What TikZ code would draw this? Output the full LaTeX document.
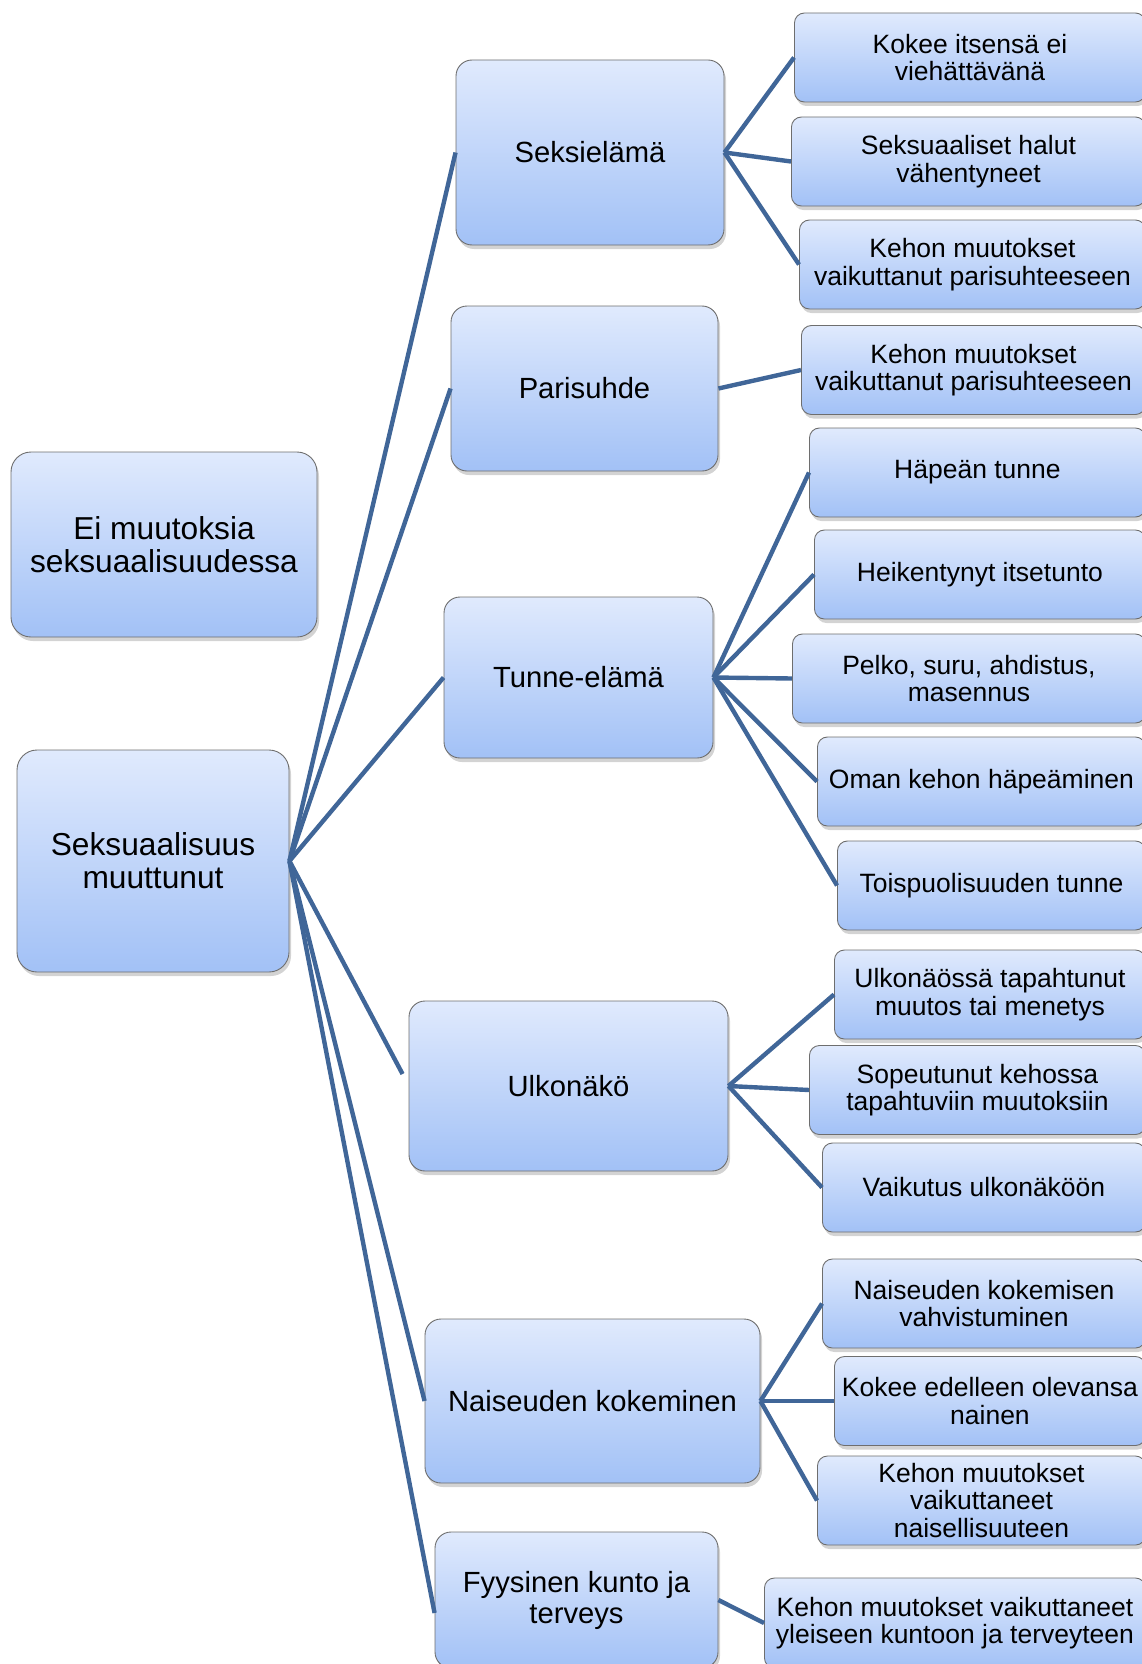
\documentclass[tikz,border=0pt]{standalone}
\usepackage{fontspec}
\setmainfont{Liberation Sans}
\usetikzlibrary{shadows}

\definecolor{boxtop}{RGB}{224,234,253}
\definecolor{boxbot}{RGB}{162,193,246}
\definecolor{boxline}{RGB}{110,110,110}
\definecolor{linkblue}{RGB}{64,102,152}

\tikzset{
  box/.style={draw=boxline, line width=0.9pt, top color=boxtop, bottom color=boxbot,
    align=center, inner sep=2pt,
    drop shadow={shadow xshift=2pt, shadow yshift=-4pt, opacity=0.35}},
  bigbox/.style={box, rounded corners=20pt, font=\fontsize{31.7}{33}\selectfont},
  midbox/.style={box, rounded corners=16pt, font=\fontsize{29.2}{31}\selectfont},
  smallbox/.style={box, rounded corners=10pt, anchor=west, minimum height=89pt,
    font=\fontsize{26.5}{27.6}\selectfont},
  branch/.style={draw=linkblue, line width=4.4pt},
}

\begin{document}
\begin{tikzpicture}[x=1pt, y=-1pt]
  \useasboundingbox (0,0) rectangle (1141,1664);

  % Left column
  \node[bigbox, minimum width=306pt, minimum height=185pt] (ei) at (164,544.5) {Ei muutoksia\\seksuaalisuudessa};
  \node[bigbox, minimum width=272pt, minimum height=222pt] (sex) at (153,861) {Seksuaalisuus\\muuttunut};

  % Middle column
  \node[midbox, minimum width=268pt, minimum height=185pt] (sek) at (590,152.5) {Seksielämä};
  \node[midbox, minimum width=267pt, minimum height=165pt] (pari) at (584.5,388.5) {Parisuhde};
  \node[midbox, minimum width=269pt, minimum height=161pt] (tunne) at (578.5,677.5) {Tunne-elämä};
  \node[midbox, minimum width=319pt, minimum height=170pt] (ulko) at (568.5,1086) {Ulkonäkö};
  \node[midbox, minimum width=335pt, minimum height=164pt] (nais) at (592.5,1401) {Naiseuden kokeminen};
  \node[midbox, minimum width=283pt, minimum height=136pt] (fyys) at (576.5,1600) {Fyysinen kunto ja\\terveys};

  % Right column
  \node[smallbox, minimum width=351pt] (k1) at (794,57.5) {Kokee itsensä ei\\viehättävänä};
  \node[smallbox, minimum width=354pt] (k2) at (791,161.5) {Seksuaaliset halut\\vähentyneet};
  \node[smallbox, minimum width=346pt] (k3) at (799,264.5) {Kehon muutokset\\vaikuttanut parisuhteeseen};
  \node[smallbox, minimum width=344pt] (p1) at (801,370) {Kehon muutokset\\vaikuttanut parisuhteeseen};
  \node[smallbox, minimum width=336pt] (t1) at (809,472.5) {Häpeän tunne};
  \node[smallbox, minimum width=331pt] (t2) at (814,574.5) {Heikentynyt itsetunto};
  \node[smallbox, minimum width=353pt] (t3) at (792,678.5) {Pelko, suru, ahdistus,\\masennus};
  \node[smallbox, minimum width=328pt] (t4) at (817,781.5) {Oman kehon häpeäminen};
  \node[smallbox, minimum width=308pt] (t5) at (837,885.5) {Toispuolisuuden tunne};
  \node[smallbox, minimum width=311pt] (u1) at (834,994.5) {Ulkonäössä tapahtunut\\muutos tai menetys};
  \node[smallbox, minimum width=336pt] (u2) at (809,1090) {Sopeutunut kehossa\\tapahtuviin muutoksiin};
  \node[smallbox, minimum width=323pt] (u3) at (822,1187.5) {Vaikutus ulkonäköön};
  \node[smallbox, minimum width=323pt] (n1) at (822,1303.5) {Naiseuden kokemisen\\vahvistuminen};
  \node[smallbox, minimum width=311pt] (n2) at (834,1401) {Kokee edelleen olevansa\\nainen};
  \node[smallbox, minimum width=328pt] (n3) at (817,1500.5) {Kehon muutokset\\vaikuttaneet\\naisellisuuteen};
  \node[smallbox, minimum width=381pt, minimum height=90pt] (f1) at (764,1623) {Kehon muutokset vaikuttaneet\\yleiseen kuntoon ja terveyteen};

  % Connectors
  \foreach \m in {sek,pari,tunne,nais}
    \draw[branch] (sex.east) -- (\m.west);
  \draw[branch] (sex.east) -- ([xshift=-6pt,yshift=12pt]ulko.west);
  \draw[branch] (sex.east) -- ([yshift=-13pt]fyys.west);
  \foreach \r in {k1,k2,k3}
    \draw[branch] (sek.east) -- (\r.west);
  \draw[branch] (pari.east) -- (p1.west);
  \foreach \r in {t1,t2,t3,t4,t5}
    \draw[branch] (tunne.east) -- (\r.west);
  \foreach \r in {u1,u2,u3}
    \draw[branch] (ulko.east) -- (\r.west);
  \foreach \r in {n1,n2,n3}
    \draw[branch] (nais.east) -- (\r.west);
  \draw[branch] (fyys.east) -- (f1.west);
\end{tikzpicture}
\end{document}
